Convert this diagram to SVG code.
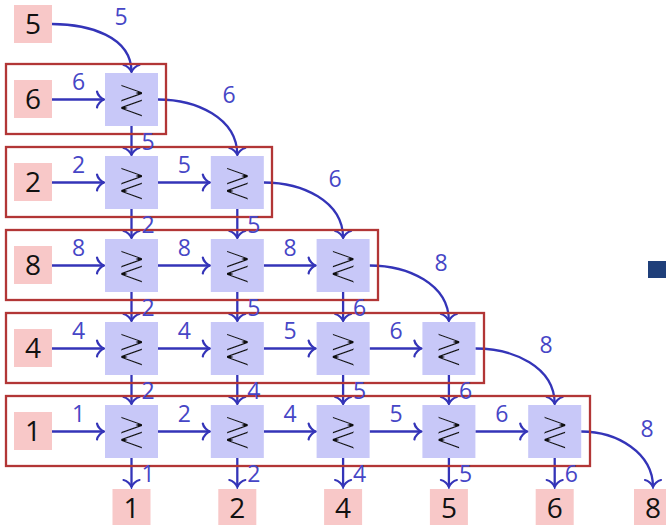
<svg xmlns="http://www.w3.org/2000/svg" width="666" height="525" viewBox="0 0 666 525">
<style>
.in{fill:#f8c8c8}
.cmp{fill:#c8c8f8}
.dg{font-family:"Open Sans","DejaVu Sans",sans-serif;font-size:28px;fill:#111;text-anchor:middle}
.sym{font-family:"DejaVu Sans",sans-serif;font-size:45px;fill:#111;text-anchor:middle;filter:url(#thin)}
.grp{fill:none;stroke:#b23636;stroke-width:2.3}
.ar{fill:none;stroke:#3434b8;stroke-width:2.3;marker-end:url(#tip)}
.lb{font-family:"Open Sans","DejaVu Sans",sans-serif;font-size:23px;fill:#4646c6}
.lc{text-anchor:middle}
</style>
<defs>
<filter id="thin" x="-20%" y="-20%" width="140%" height="140%">
<feMorphology operator="erode" radius="0.7"/>
</filter>
<marker id="tip" markerUnits="userSpaceOnUse" markerWidth="20" markerHeight="20" viewBox="-10 -10 20 20" refX="1" refY="0" orient="auto" overflow="visible">
<path d="M -6 -8 C -5.5 -4.5 -1.5 -0.8 1 0 C -1.5 0.8 -5.5 4.5 -6 8" fill="none" stroke="#3434b8" stroke-width="2.2" stroke-linecap="round"/>
</marker>
</defs>
<rect x="648" y="261" width="18" height="17" fill="#1f3f7a"/>
<g id="connectors">
<path class="ar" d="M 52 24 C 88.6 24 131.5 36.4 131.5 72"/>
<path class="ar" d="M 158 99.5 C 196.1 99.5 237.3 117.9 237.3 155"/>
<path class="ar" d="M 263.8 182.5 C 301.9 182.5 343.1 200.9 343.1 238"/>
<path class="ar" d="M 369.6 265.5 C 407.7 265.5 448.9 283.9 448.9 321"/>
<path class="ar" d="M 475.4 348.5 C 513.5 348.5 554.7 366.9 554.7 404"/>
<path class="ar" d="M 581.2 431.5 C 617.2 431.5 653 453 653 487"/>
<path class="ar" d="M 52 99.5 H 104"/>
<path class="ar" d="M 52 182.5 H 104"/><path class="ar" d="M 158 182.5 H 209.8"/>
<path class="ar" d="M 52 265.5 H 104"/><path class="ar" d="M 158 265.5 H 209.8"/><path class="ar" d="M 263.8 265.5 H 315.6"/>
<path class="ar" d="M 52 348.5 H 104"/><path class="ar" d="M 158 348.5 H 209.8"/><path class="ar" d="M 263.8 348.5 H 315.6"/><path class="ar" d="M 369.6 348.5 H 421.4"/>
<path class="ar" d="M 52 431.5 H 104"/><path class="ar" d="M 158 431.5 H 209.8"/><path class="ar" d="M 263.8 431.5 H 315.6"/><path class="ar" d="M 369.6 431.5 H 421.4"/><path class="ar" d="M 475.4 431.5 H 527.2"/>
<path class="ar" d="M 131.5 126 V 155"/>
<path class="ar" d="M 131.5 209 V 238"/><path class="ar" d="M 237.3 209 V 238"/>
<path class="ar" d="M 131.5 292 V 321"/><path class="ar" d="M 237.3 292 V 321"/><path class="ar" d="M 343.1 292 V 321"/>
<path class="ar" d="M 131.5 375 V 404"/><path class="ar" d="M 237.3 375 V 404"/><path class="ar" d="M 343.1 375 V 404"/><path class="ar" d="M 448.9 375 V 404"/>
<path class="ar" d="M 131.5 458 V 487"/><path class="ar" d="M 237.3 458 V 487"/><path class="ar" d="M 343.1 458 V 487"/><path class="ar" d="M 448.9 458 V 487"/><path class="ar" d="M 554.7 458 V 487"/>
</g>
<g id="groups">
<rect class="grp" x="6" y="64" width="160" height="70"/>
<rect class="grp" x="6" y="147" width="266" height="70"/>
<rect class="grp" x="6" y="230" width="372" height="70"/>
<rect class="grp" x="6" y="313" width="478" height="70"/>
<rect class="grp" x="6" y="396" width="584" height="70"/>
</g>
<g id="labels" class="lb">
<text class="lc" x="121" y="25">5</text>
<text class="lc" x="229" y="103">6</text>
<text class="lc" x="335" y="186.5">6</text>
<text class="lc" x="441" y="270.5">8</text>
<text class="lc" x="546" y="353">8</text>
<text class="lc" x="647" y="436.5">8</text>
<text class="lc" x="78.5" y="90">6</text>
<text class="lc" x="78.5" y="173">2</text><text class="lc" x="184.4" y="173">5</text>
<text class="lc" x="78.5" y="256">8</text><text class="lc" x="184.4" y="256">8</text><text class="lc" x="290.2" y="256">8</text>
<text class="lc" x="78.5" y="339">4</text><text class="lc" x="184.4" y="339">4</text><text class="lc" x="290.2" y="339">5</text><text class="lc" x="396" y="339">6</text>
<text class="lc" x="78.5" y="422">1</text><text class="lc" x="184.4" y="422">2</text><text class="lc" x="290.2" y="422">4</text><text class="lc" x="396" y="422">5</text><text class="lc" x="501.8" y="422">6</text>
<text x="141.5" y="150">5</text>
<text x="141.5" y="233">2</text><text x="247.3" y="233">5</text>
<text x="141.5" y="316">2</text><text x="247.3" y="316">5</text><text x="353.1" y="316">6</text>
<text x="141.5" y="399">2</text><text x="247.3" y="399">4</text><text x="353.1" y="399">5</text><text x="458.9" y="399">6</text>
<text x="141.5" y="482">1</text><text x="247.3" y="482">2</text><text x="353.1" y="482">4</text><text x="458.9" y="482">5</text><text x="564.7" y="482">6</text>
</g>
<g id="in5"><rect class="in" x="14" y="5" width="38" height="38"/><text class="dg" x="33" y="34">5</text></g>
<g id="in6"><rect class="in" x="14" y="80" width="38" height="38"/><text class="dg" x="33" y="109">6</text></g>
<g id="in2"><rect class="in" x="14" y="163" width="38" height="38"/><text class="dg" x="33" y="192">2</text></g>
<g id="in8"><rect class="in" x="14" y="246" width="38" height="38"/><text class="dg" x="33" y="275">8</text></g>
<g id="in4"><rect class="in" x="14" y="329" width="38" height="38"/><text class="dg" x="33" y="358">4</text></g>
<g id="in1"><rect class="in" x="14" y="412" width="38" height="38"/><text class="dg" x="33" y="441">1</text></g>
<g id="c00"><rect class="cmp" x="105" y="73" width="53" height="53"/><text class="sym" transform="translate(131.5 114) scale(0.8 1)">≷</text></g>
<g id="c10"><rect class="cmp" x="105" y="156" width="53" height="53"/><text class="sym" transform="translate(131.5 197) scale(0.8 1)">≷</text></g>
<g id="c11"><rect class="cmp" x="210.8" y="156" width="53" height="53"/><text class="sym" transform="translate(237.3 197) scale(0.8 1)">≷</text></g>
<g id="c20"><rect class="cmp" x="105" y="239" width="53" height="53"/><text class="sym" transform="translate(131.5 280) scale(0.8 1)">≷</text></g>
<g id="c21"><rect class="cmp" x="210.8" y="239" width="53" height="53"/><text class="sym" transform="translate(237.3 280) scale(0.8 1)">≷</text></g>
<g id="c22"><rect class="cmp" x="316.6" y="239" width="53" height="53"/><text class="sym" transform="translate(343.1 280) scale(0.8 1)">≷</text></g>
<g id="c30"><rect class="cmp" x="105" y="322" width="53" height="53"/><text class="sym" transform="translate(131.5 363) scale(0.8 1)">≷</text></g>
<g id="c31"><rect class="cmp" x="210.8" y="322" width="53" height="53"/><text class="sym" transform="translate(237.3 363) scale(0.8 1)">≷</text></g>
<g id="c32"><rect class="cmp" x="316.6" y="322" width="53" height="53"/><text class="sym" transform="translate(343.1 363) scale(0.8 1)">≷</text></g>
<g id="c33"><rect class="cmp" x="422.4" y="322" width="53" height="53"/><text class="sym" transform="translate(448.9 363) scale(0.8 1)">≷</text></g>
<g id="c40"><rect class="cmp" x="105" y="405" width="53" height="53"/><text class="sym" transform="translate(131.5 446) scale(0.8 1)">≷</text></g>
<g id="c41"><rect class="cmp" x="210.8" y="405" width="53" height="53"/><text class="sym" transform="translate(237.3 446) scale(0.8 1)">≷</text></g>
<g id="c42"><rect class="cmp" x="316.6" y="405" width="53" height="53"/><text class="sym" transform="translate(343.1 446) scale(0.8 1)">≷</text></g>
<g id="c43"><rect class="cmp" x="422.4" y="405" width="53" height="53"/><text class="sym" transform="translate(448.9 446) scale(0.8 1)">≷</text></g>
<g id="c44"><rect class="cmp" x="528.2" y="405" width="53" height="53"/><text class="sym" transform="translate(554.7 446) scale(0.8 1)">≷</text></g>
<g id="out1"><rect class="in" x="112.5" y="489" width="38" height="38"/><text class="dg" x="131.5" y="518">1</text></g>
<g id="out2"><rect class="in" x="218.3" y="489" width="38" height="38"/><text class="dg" x="237.3" y="518">2</text></g>
<g id="out4"><rect class="in" x="324.1" y="489" width="38" height="38"/><text class="dg" x="343.1" y="518">4</text></g>
<g id="out5"><rect class="in" x="429.9" y="489" width="38" height="38"/><text class="dg" x="448.9" y="518">5</text></g>
<g id="out6"><rect class="in" x="535.7" y="489" width="38" height="38"/><text class="dg" x="554.7" y="518">6</text></g>
<g id="out8"><rect class="in" x="634" y="489" width="38" height="38"/><text class="dg" x="653" y="518">8</text></g>
</svg>
